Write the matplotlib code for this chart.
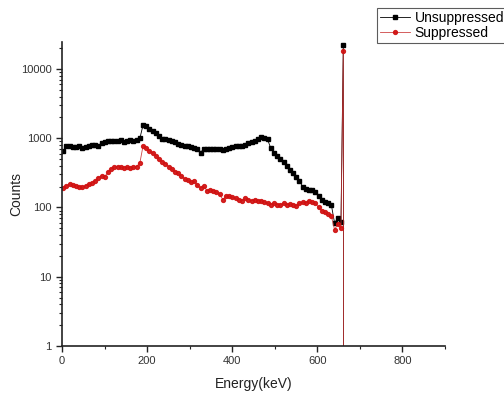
import matplotlib
matplotlib.use("Agg")
import matplotlib.pyplot as plt
from matplotlib.ticker import FixedLocator, NullFormatter, LogLocator

plt.rcParams['font.family'] = ['Liberation Sans', 'DejaVu Sans']

energy = [3, 10.5, 18, 25.5, 33, 40.5, 48, 55.5, 63, 70.5, 78, 85.5, 93, 100.5,
          108, 115.5, 123, 130.5, 138, 145.5, 153, 160.5, 168, 175.5, 183, 190.5,
          198, 205.5, 213, 220.5, 228, 235.5, 243, 250.5, 258, 265.5, 273, 280.5,
          288, 295.5, 303, 310.5, 318, 325.5, 333, 340.5, 348, 355.5, 363, 370.5,
          378, 385.5, 393, 400.5, 408, 415.5, 423, 430.5, 438, 445.5, 453, 460.5,
          468, 475.5, 483, 490.5, 498, 505.5, 513, 520.5, 528, 535.5, 543, 550.5,
          558, 565.5, 573, 580.5, 588, 595.5, 603, 610.5, 618, 625.5, 633, 640.5,
          648, 655.5, 661, 662]

unsuppressed = [650, 760, 780, 750, 740, 770, 720, 740, 760, 790, 800, 770, 860, 880,
                900, 920, 900, 910, 930, 890, 920, 930, 900, 950, 1000, 1550,
                1480, 1380, 1290, 1180, 1080, 980, 960, 940, 900, 870, 830, 800,
                780, 760, 740, 720, 700, 620, 700, 710, 700, 690, 700, 690,
                680, 700, 720, 740, 760, 780, 780, 800, 850, 870, 900, 960,
                1050, 1000, 960, 720, 620, 560, 500, 450, 400, 350, 310, 280,
                240, 200, 185, 180, 180, 170, 145, 130, 120, 115, 108, 60,
                70, 62, 22000, 0.01]

suppressed = [190, 205, 220, 210, 205, 200, 195, 205, 215, 225, 240, 270, 285, 280,
              320, 360, 380, 390, 380, 370, 380, 370, 380, 390, 440, 780,
              720, 660, 610, 560, 500, 460, 430, 390, 360, 330, 310, 285,
              260, 250, 230, 240, 210, 190, 205, 175, 180, 175, 165, 155,
              130, 145, 145, 140, 135, 130, 125, 135, 130, 125, 130, 125,
              125, 120, 115, 110, 115, 110, 108, 115, 110, 112, 110, 105,
              115, 120, 115, 125, 120, 115, 100, 90, 85, 80, 75, 48,
              57, 50, 18000, 0.01]

x_ticks = [0, 200, 400, 600, 800]
y_ticks = [1, 10, 100, 1000, 10000]
y_tick_labels = ["1", "10", "100", "1000", "10000"]

fig = plt.figure(figsize=(5.04, 3.95), dpi=100)
ax = fig.add_axes([62/504, 1-346/395, (445-62)/504, (346-42)/395])

ax.plot(energy, unsuppressed, color='black', lw=0.6, marker='s', ms=2.8,
        mec='black', mfc='black', label='Unsuppressed')
ax.plot(energy, suppressed, color='#c83030', lw=0.6, marker='o', ms=2.8,
        mec='#d01010', mfc='#d01010', label='Suppressed', alpha=0.9)

ax.set_yscale('log')
ax.set_xlim(0, 900)
ax.set_ylim(1, 24500)
ax.set_xticks(x_ticks)
ax.xaxis.set_minor_locator(FixedLocator([100, 300, 500, 700, 900]))
ax.set_yticks(y_ticks)
ax.set_yticklabels(y_tick_labels)
ax.yaxis.set_minor_locator(LogLocator(base=10, subs=range(2, 10)))
ax.yaxis.set_minor_formatter(NullFormatter())

for s in ['top', 'right']:
    ax.spines[s].set_visible(False)
for s in ['left', 'bottom']:
    ax.spines[s].set_linewidth(1.2)
    ax.spines[s].set_color('#222222')

ax.tick_params(axis='both', which='major', direction='out', length=4, width=1,
               labelsize=8, colors='#222222', labelcolor='#333333')
ax.tick_params(axis='both', which='minor', direction='out', length=2, width=0.8,
               colors='#222222')

ax.set_xlabel('Energy(keV)', fontsize=10, color='#222222')
ax.set_ylabel('Counts', fontsize=10, color='#222222')
ax.yaxis.set_label_coords((23-62)/383, 0.5)
ax.xaxis.set_label_coords(0.5, (346-377)/304)

leg = fig.legend(loc='upper left', bbox_to_anchor=(377/504, 1-8/395),
                 fontsize=10, frameon=True, fancybox=False, borderpad=0.2,
                 handlelength=2.2, handletextpad=0.3, labelspacing=0.1,
                 borderaxespad=0)
leg.get_frame().set_edgecolor('#333333')
leg.get_frame().set_linewidth(0.8)

fig.savefig('out.png', dpi=100)
